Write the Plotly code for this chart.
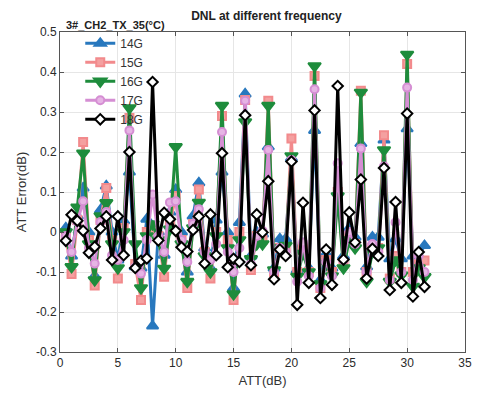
import plotly.graph_objects as go

x_att = [0.5 * i for i in range(1, 64)]

err_14g = [0.01, -0.06, 0.04, 0.11, 0.0, -0.11, 0.055, 0.115, 0.0, -0.07, 0.028, 0.15,
           -0.087, -0.09, 0.032, -0.235, 0.0, -0.058, 0.05, 0.106, 0.0, -0.1, 0.04, 0.123,
           -0.04, -0.09, 0.03, 0.15, 0.0, -0.14, 0.024, 0.345, -0.06, 0.0, -0.005, 0.213,
           -0.09, -0.017, -0.017, 0.185, -0.095, -0.03, -0.09, 0.254, -0.12, -0.054, -0.09, 0.1,
           -0.06, 0.01, -0.013, 0.221, -0.087, -0.013, -0.013, 0.23, -0.067, -0.017, -0.067, 0.258,
           -0.06, -0.06, -0.034]
err_15g = [-0.01, -0.105, 0.03, 0.225, -0.02, -0.134, 0.03, 0.11, -0.02, -0.116, 0.01, 0.285,
           -0.08, -0.17, 0.0, 0.005, -0.01, -0.112, 0.02, 0.09, -0.02, -0.14, 0.02, 0.106,
           -0.05, -0.116, 0.0, 0.29, -0.02, -0.17, 0.0, 0.33, -0.095, -0.01, -0.02, 0.328,
           -0.1, -0.04, -0.04, 0.234, -0.1, -0.04, -0.1, 0.39, -0.14, -0.07, -0.1, 0.1,
           -0.08, -0.01, -0.03, 0.353, -0.1, -0.04, -0.04, 0.242, -0.116, -0.06, -0.1, 0.42,
           -0.1, -0.08, -0.071]
err_16g = [0.0, -0.087, 0.062, 0.197, -0.03, -0.12, 0.04, 0.073, -0.03, -0.09, 0.0, 0.31,
           -0.03, -0.14, -0.01, 0.02, -0.02, -0.091, 0.007, 0.213, -0.03, -0.124, 0.01, 0.074,
           -0.06, -0.1, -0.01, 0.316, -0.04, -0.155, -0.02, 0.275, -0.067, -0.03, -0.03, 0.316,
           -0.095, -0.04, -0.034, 0.19, -0.111, -0.054, -0.1, 0.415, -0.13, -0.08, -0.11, 0.09,
           -0.09, -0.02, -0.04, 0.349, -0.124, -0.05, -0.04, 0.205, -0.124, -0.07, -0.108, 0.444,
           -0.136, -0.09, -0.112]
err_17g = [-0.01, -0.05, 0.025, 0.077, -0.04, -0.079, 0.025, 0.05, -0.058, -0.07, -0.02, 0.254,
           -0.088, -0.104, -0.02, 0.094, -0.01, -0.05, 0.074, 0.077, -0.02, -0.075, 0.02, 0.057,
           -0.05, -0.07, -0.03, 0.25, -0.05, -0.1, -0.04, 0.328, -0.08, -0.01, 0.003, 0.205,
           -0.1, -0.04, -0.05, 0.18, -0.124, -0.026, -0.11, 0.357, -0.14, -0.075, -0.11, 0.172,
           -0.07, 0.0, -0.03, 0.209, -0.1, -0.03, -0.05, 0.164, -0.12, 0.024, -0.1, 0.361,
           -0.12, -0.06, -0.1]
err_18g = [-0.022, 0.043, 0.028, 0.003, -0.052, -0.037, 0.009, 0.039, -0.07, 0.039, -0.058, 0.2,
           -0.09, -0.072, -0.066, 0.375, -0.021, 0.048, 0.032, 0.003, -0.038, -0.049, 0.005, 0.039,
           -0.079, 0.044, -0.058, 0.197, -0.088, -0.067, -0.075, 0.292, -0.083, 0.044, -0.001, 0.127,
           -0.118, -0.044, -0.06, 0.176, -0.182, 0.073, -0.127, 0.304, -0.165, -0.044, -0.132, 0.365,
           -0.069, 0.049, -0.026, 0.131, -0.116, -0.042, -0.06, 0.16, -0.145, 0.075, -0.127, 0.296,
           -0.161, -0.05, -0.137]

y_ticks = [-0.3, -0.2, -0.1, 0, 0.1, 0.2, 0.3, 0.4, 0.5]
y_tick_labels = ["-0.3", "-0.2", "-0.1", "0", "0.1", "0.2", "0.3", "0.4", "0.5"]
x_ticks = [0, 5, 10, 15, 20, 25, 30, 35]

series_names = ["14G", "15G", "16G", "17G", "18G"]
series_vals = [err_14g, err_15g, err_16g, err_17g, err_18g]
line_colors = ["#2878BE", "#F28A8C", "#1E8C3C", "#D58ED3", "#000000"]
fill_colors = ["#2878BE", "#F4A0A0", "#1E8C3C", "#E6B4E4", "#FFFFFF"]
symbols = ["triangle-up", "square", "triangle-down", "circle", "diamond"]
sizes = [10, 8, 11, 8, 8]

fig = go.Figure()
for name, vals, lc, fc, sym, sz in zip(series_names, series_vals, line_colors, fill_colors, symbols, sizes):
    fig.add_trace(go.Scatter(
        x=x_att, y=vals, name=name, mode="lines+markers",
        line=dict(color=lc, width=3),
        marker=dict(symbol=sym, size=sz, color=fc, line=dict(color=lc, width=2)),
    ))

axis_common = dict(
    showline=True, linecolor="#555555", linewidth=1, mirror="ticks",
    ticks="inside", ticklen=4, tickcolor="#555555",
    showgrid=True, gridcolor="#E6E6E6", gridwidth=1, zeroline=False,
    tickfont=dict(family="Liberation Sans", size=12, color="#2a2a2a"),
)

fig.update_layout(
    width=480, height=394,
    margin=dict(l=60, r=8, t=32, b=38),
    paper_bgcolor="white", plot_bgcolor="white",
    font=dict(family="Liberation Sans", color="#222222"),
    title=dict(text="<b>DNL at different frequency</b>", x=0.555, xanchor="center",
               y=0.97, yanchor="top", font=dict(size=12, color="#222222")),
    xaxis=dict(range=[0, 35], tickvals=x_ticks,
               title=dict(text="ATT(dB)", font=dict(size=13, color="#333333"), standoff=6),
               **axis_common),
    yaxis=dict(range=[-0.3, 0.5], tickvals=y_ticks, ticktext=y_tick_labels,
               title=dict(text="ATT Error(dB)", font=dict(size=13, color="#333333"), standoff=6),
               **axis_common),
    legend=dict(x=0.05, y=1.01, xanchor="left", yanchor="top", bgcolor="rgba(255,255,255,0)",
                borderwidth=0, font=dict(size=12, color="#333333"),
                tracegroupgap=0),
    showlegend=True,
    annotations=[dict(text="<b>3#_CH2_TX_35(°C)</b>", x=0.0, y=1.0, xref="paper", yref="paper",
                      xanchor="left", yanchor="bottom", showarrow=False, xshift=4, yshift=-1,
                      font=dict(size=11, color="#222222"))],
)

fig.write_html("out.html")
